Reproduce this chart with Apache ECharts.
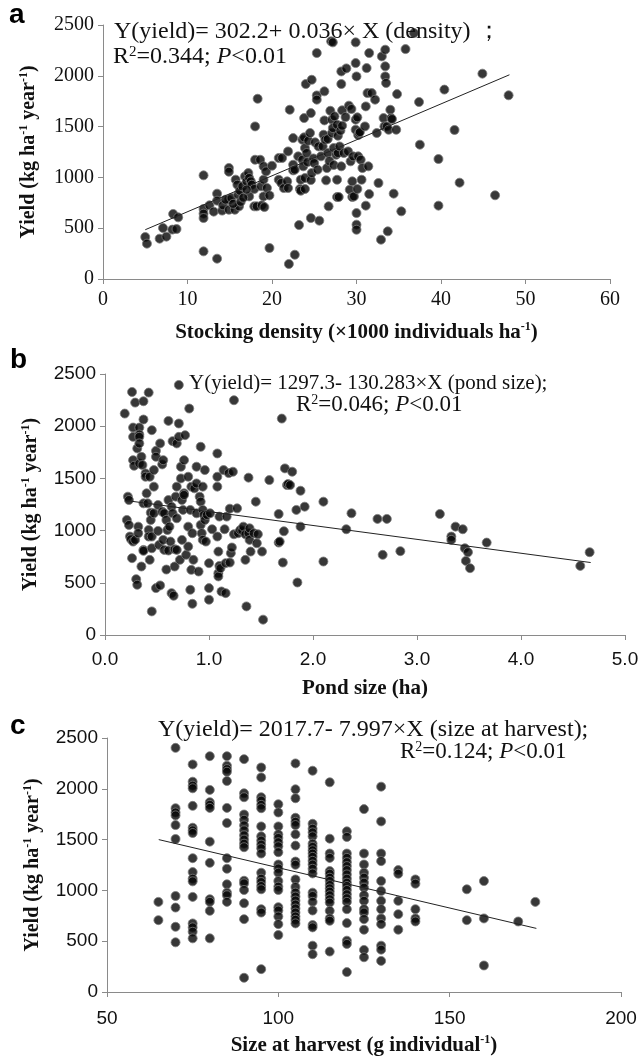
<!DOCTYPE html>
<html lang="en">
<head>
    <meta charset="UTF-8">
    <title>Yield scatter plots</title>
    <script src="https://cdn.jsdelivr.net/npm/echarts@6/dist/echarts.min.js"></script>
    <style>
        html, body { margin: 0; padding: 0; background: #fff; }
    </style>
</head>
<body>
<div id="main" style="width:644px;height:1057px;"></div>
<script type="text/javascript">

    // panel a: stocking density (x1000 ind/ha) vs yield
    var densityPoints = [
        [5.0,413],[5.2,348],[6.7,397],[7.1,502],[7.5,417],[8.2,486],[8.3,640],[8.7,492],[8.9,607],
        [11.9,272],[11.9,1020],[11.9,689],[11.9,643],[11.9,600],[13.5,200],[12.6,725],[13.1,663],
        [13.5,840],[13.5,771],[14.1,673],[14.2,725],[14.9,1093],[14.9,1056],[14.9,781],[14.9,682],
        [14.5,781],[15.2,797],[15.6,682],[15.7,978],[15.9,928],[16.0,830],[16.1,715],[16.2,869],
        [16.5,912],[16.8,1010],[17.0,961],[17.2,1043],[17.3,813],[17.3,994],[17.5,961],[17.6,928],
        [17.9,715],[17.9,886],[18.0,1174],[18.0,1502],[18.3,1774],[18.2,715],[18.6,1174],[18.7,912],
        [18.8,725],[19.0,978],[19.0,1109],[19.0,813],[19.1,708],[19.3,1059],[19.4,896],[19.7,823],
        [20.0,1115],[19.7,305],[15.4,740],[16.3,760],[16.6,800],[17.0,880],
        [20.8,1191],[21.2,1191],[20.8,977],[21.1,945],[21.4,895],[21.8,961],[21.9,895],[21.9,1256],
        [22.1,1666],[22.5,1387],[22.5,1125],[22.5,1069],[22.7,239],[22.7,1076],[23.1,1207],[23.2,531],
        [23.3,886],[23.4,977],[23.4,869],[23.6,1371],[23.6,1174],[23.7,1109],[23.8,1584],[23.8,1394],
        [23.9,1289],[23.9,994],[23.9,886],[24.0,1919],[24.1,1240],[24.2,1151],[24.3,1361],[24.5,1437],
        [24.6,1633],[24.6,974],[24.6,600],[24.7,1961],[24.7,1043],[24.9,1187],[25.0,1141],[25.1,1345],
        [25.3,2224],[25.3,1807],[25.3,1765],[25.4,1076],[25.5,1305],[22.0,148],[25.6,574],
        [25.8,1207],[26.0,1305],[26.1,1420],[26.2,1561],[26.2,1847],[26.3,1371],[26.4,971],[26.5,1092],
        [26.6,1240],[26.6,1378],[26.7,715],[26.8,1161],[26.9,1656],[27.0,2339],[27.1,1437],[27.1,1568],
        [27.2,1486],[27.2,2329],[27.3,1289],[27.3,1122],[27.4,1601],[27.6,1223],[27.7,807],[27.7,977],
        [27.7,1519],[27.8,1240],[27.8,1410],[27.9,807],[28.0,1305],[28.1,1460],[28.2,2043],[28.2,1109],
        [28.2,1919],[28.3,1660],[28.3,1509],[28.5,1240],[28.7,1594],[28.8,2073],[29.0,1256],[29.1,1706],
        [29.2,879],[29.3,1158],[29.4,1673],[29.5,961],[29.5,807],[29.6,1207],[29.7,813],[29.9,2329],
        [29.9,1469],[29.9,1568],[29.9,2125],[30.0,649],[30.0,535],[30.0,485],[30.0,1994],[30.1,886],
        [30.1,1591],[30.2,1417],[30.2,1207],[30.3,1437],
        [30.4,1446],[30.5,1174],[30.6,977],[30.7,1092],[31.0,1502],[31.1,722],[31.1,1699],[31.2,2076],
        [31.3,1830],[31.4,1109],[31.5,2224],[31.5,836],[31.8,1830],[32.2,1765],[32.4,1437],[32.6,945],
        [32.9,387],[33.0,2191],[33.2,1584],[33.3,1502],[33.4,2093],[33.4,2257],[33.4,1994],[33.5,1929],
        [33.6,1502],[33.7,469],[33.8,1469],[34.0,1666],[34.1,1584],[34.2,1574],[34.4,840],[34.7,1469],
        [34.8,1820],[35.3,666],[35.8,2263],[36.8,2421],[37.5,1322],[37.4,1742],
        [39.7,1181],[39.7,722],[40.4,1864],[41.6,1467],[42.2,948],[44.9,2021],[46.4,824],[48.0,1808]
    ];
    var densityFit = [[5.0, 485], [48.1, 2010]];

    // panel b: pond size (ha) vs yield
    var pondPoints = [
        [0.19,2121],[0.26,2328],[0.27,1987],[0.27,1898],[0.29,2226],[0.33,1987],[0.33,1920],[0.37,2064],
        [0.37,2239],[0.42,2322],[0.45,1962],[0.21,1102],[0.22,1325],[0.23,1293],[0.23,1054],[0.24,943],
        [0.25,917],[0.26,736],[0.27,895],[0.27,1675],[0.28,1621],[0.29,911],[0.30,535],[0.31,1787],
        [0.31,481],[0.32,1038],[0.32,975],[0.33,1898],[0.33,1835],[0.33,1643],[0.35,656],[0.35,1707],
        [0.36,1628],[0.37,1261],[0.37,815],[0.37,806],[0.39,1548],[0.39,1516],[0.40,1357],[0.41,1261],
        [0.42,1006],[0.42,943],[0.43,1516],[0.43,720],[0.44,1172],[0.44,1102],[0.45,943],[0.45,226],
        [0.45,831],[0.47,1166],[0.47,1580],[0.47,1421],[0.49,1764],[0.49,449],[0.49,1707],[0.51,997],
        [0.51,1245],[0.52,863],[0.53,1835],[0.53,475],[0.55,1634],[0.55,1182],[0.56,1675],[0.56,911],
        [0.57,1166],[0.57,815],[0.59,1102],[0.59,627],[0.60,1006],[0.61,809],[0.61,1293],[0.61,2051],
        [0.62,1038],[0.63,895],[0.64,1229],[0.64,401],[0.65,1166],[0.65,1857],[0.66,376],[0.67,822],
        [0.67,656],[0.68,1325],[0.69,1421],[0.69,1835],[0.69,1118],[0.69,815],[0.71,2395],[0.71,2026],
        [0.71,1898],[0.72,720],[0.73,1612],[0.73,1500],[0.74,1293],[0.74,911],[0.75,1198],[0.76,1357],
        [0.76,1675],[0.76,1341],[0.77,1914],[0.78,768],[0.80,847],[0.80,1516],[0.80,1038],[0.81,2169],
        [0.82,433],[0.82,1198],[0.83,1421],[0.83,624],[0.84,299],[0.84,975],[0.85,720],[0.86,1405],
        [0.88,1612],[0.88,1166],[0.88,1452],[0.90,608],[0.91,1325],[0.92,1054],[0.92,1803],[0.92,1277],
        [0.93,975],[0.94,1198],[0.94,1421],[0.94,911],[0.95,1150],[0.96,1102],[0.96,1580],[0.97,895],
        [0.98,1150],[1.00,688],[1.00,449],[1.00,338],[1.01,1166],[1.03,1013],[1.08,1739],[1.08,1516],
        [1.08,1421],[1.08,943],[1.09,799],[1.09,592],[1.09,561],[1.10,1134],[1.10,662],[1.11,640],
        [1.12,417],[1.14,1580],[1.15,1013],[1.16,688],[1.16,401],[1.17,1134],[1.19,1551],[1.20,1210],
        [1.20,694],[1.21,784],[1.22,838],[1.23,1564],[1.24,2249],[1.24,965],[1.27,1213],[1.28,975],
        [1.30,1006],[1.32,1000],[1.33,1038],[1.35,965],[1.35,720],[1.36,274],[1.38,975],[1.38,1507],
        [1.39,911],[1.39,1022],[1.40,799],[1.43,975],[1.45,1277],[1.46,879],[1.47,965],[1.51,799],
        [1.52,147],[1.58,1484],[1.67,1159],[1.67,885],[1.68,895],[1.70,2073],[1.71,694],[1.72,994],
        [1.73,1596],[1.75,1436],[1.76,1446],[1.78,1436],[1.80,1564],[1.84,1198],[1.85,503],[1.88,1382],
        [1.88,1038],[1.92,1229],[2.10,1277],[2.10,704],[2.32,1013],[2.37,1166],[2.62,1112],[2.67,768],
        [2.71,1112],[2.84,803],[3.22,1159],[3.33,943],[3.33,911],[3.37,1038],[3.44,1013],[3.46,831],
        [3.47,710],[3.49,793],[3.51,640],[3.67,885],[4.57,662],[4.66,793]
    ];
    var pondFit = [[0.21, 1287], [4.67, 694]];

    // panel c: size at harvest (g/ind) vs yield, one list of yields per size
    var harvestSizes = [65, 70, 75, 80, 85, 90, 95, 100, 105, 110, 115, 120, 125, 130, 135, 140, 155, 160, 170, 175];
    var harvestYields = [
        [887, 707],
        [2403, 1809, 1767, 1738, 1643, 1506, 945, 831, 642, 489],
        [2240, 2070, 2031, 2005, 1832, 1617, 1591, 1565, 1317, 1180, 1115, 1089, 936, 675, 636, 593, 528],
        [2321, 1989, 1868, 1842, 1812, 1480, 1271, 913, 887, 799, 528],
        [2321, 2227, 2194, 2168, 2077, 1812, 1663, 1317, 1213, 1060, 978, 952, 887],
        [2292, 1956, 1917, 1747, 1695, 1640, 1591, 1542, 1500, 1460, 1425, 1095, 1069, 1004, 874, 717, 140],
        [2210, 2112, 1917, 1884, 1842, 1809, 1630, 1532, 1490, 1451, 1415, 1363, 1174, 1115, 1082, 1043, 1011, 815, 782, 225],
        [1848, 1767, 1630, 1552, 1516, 1474, 1434, 1376, 1255, 1216, 1174, 1092, 1037, 1004, 835, 802, 743, 668, 561],
        [2250, 1995, 1907, 1715, 1675, 1643, 1552, 1441, 1284, 1252, 1108, 1034, 978, 939, 900, 861, 822, 782, 743, 711, 675],
        [2178, 1656, 1607, 1571, 1532, 1460, 1428, 1395, 1363, 1330, 1291, 1255, 1213, 1167, 978, 945, 887, 802, 659, 636, 456, 372],
        [2064, 1509, 1363, 1320, 1190, 1164, 1125, 1092, 1053, 1020, 988, 952, 913, 880, 799, 724, 701, 398],
        [1581, 1526, 1363, 1320, 1278, 1239, 1200, 1157, 1115, 1076, 1043, 1004, 962, 923, 887, 815, 678, 505, 473, 196],
        [1800, 1363, 1255, 1174, 1125, 1076, 1027, 952, 897, 815, 782, 717, 613, 414, 342],
        [2021, 1679, 1363, 1288, 1092, 994, 897, 815, 724, 668, 456, 417, 306],
        [1200, 1164, 897, 766, 613],
        [1108, 1066, 815, 724, 694],
        [1011, 707],
        [1092, 724, 261],
        [694],
        [887]
    ];
    var harvestFit = [[65.1, 1500], [175.3, 626]];

    var harvestPoints = [];
    harvestSizes.forEach(function (s, i) {
        harvestYields[i].forEach(function (v) { harvestPoints.push([s, v]); });
    });

    var serif = '"Liberation Serif", "Times New Roman", serif';
    var sans = '"Liberation Sans", Arial, sans-serif';
    var axisGray = '#8a8a8a';

    function nameRich(size) {
        return {
            sup: { fontFamily: serif, fontWeight: 'bold', fontSize: 12, verticalAlign: 'top', lineHeight: size + 2 },
            b: { fontFamily: serif, fontWeight: 'bold', fontSize: size, lineHeight: size + 2 }
        };
    }
    function eqRich(size) {
        return {
            t: { fontFamily: serif, fontWeight: 'normal', fontSize: size, lineHeight: 24, color: '#111' },
            s: { fontFamily: serif, fontWeight: 'normal', fontSize: Math.round(size * 0.62), lineHeight: 24, verticalAlign: 'top', color: '#111' },
            i: { fontFamily: serif, fontWeight: 'normal', fontSize: size, lineHeight: 24, fontStyle: 'italic', color: '#111' }
        };
    }

    function plain(v) { return String(v); }

    function xAx(idx, min, max, interval, name, font, size, fmt, margin) {
        return {
            gridIndex: idx, type: 'value', min: min, max: max, interval: interval,
            name: name, nameLocation: 'middle', nameGap: 42,
            nameTextStyle: { color: '#111', rich: nameRich(21) },
            axisLine: { show: true, lineStyle: { color: axisGray, width: 1 } },
            axisTick: { show: true, length: 5, lineStyle: { color: axisGray } },
            axisLabel: { color: '#111', fontFamily: font, fontSize: size, margin: margin, formatter: fmt || plain },
            splitLine: { show: false }
        };
    }
    function yAx(idx, font, size) {
        return {
            gridIndex: idx, type: 'value', min: 0, max: 2500, interval: 500,
            name: '{b|Yield (kg ha}{sup|-1}{b| year}{sup|-1}{b|)}', nameLocation: 'middle', nameGap: 63,
            nameTextStyle: { color: '#111', rich: nameRich(20) },
            axisLine: { show: true, lineStyle: { color: axisGray, width: 1 } },
            axisTick: { show: true, length: 5, lineStyle: { color: axisGray } },
            axisLabel: { color: '#111', fontFamily: font, fontSize: size, margin: 9, formatter: plain },
            splitLine: { show: false }
        };
    }
    function dots(idx, data) {
        return {
            type: 'scatter', xAxisIndex: idx, yAxisIndex: idx, data: data, symbolSize: 9,
            itemStyle: { color: '#050505', borderColor: '#7a7a7a', borderWidth: 1 },
            silent: true, z: 2
        };
    }
    function fit(idx, data) {
        return {
            type: 'line', xAxisIndex: idx, yAxisIndex: idx, data: data, symbol: 'none',
            lineStyle: { color: '#222', width: 1 }, silent: true, z: 3
        };
    }
    function label(txt, left, top) {
        return { text: txt, left: left, top: top, padding: 0,
            textStyle: { fontFamily: sans, fontWeight: 'bold', fontSize: 28, color: '#000' } };
    }
    function eq(txt, left, top, size) {
        return { text: txt, left: left, top: top, padding: 0,
            textStyle: { fontWeight: 'normal', rich: eqRich(size) } };
    }

    var myChart = echarts.init(document.getElementById('main'), null, { renderer: 'canvas' });
    var option = {
        animation: false,
        backgroundColor: '#fff',
        title: [
            label('a', 9, 1),
            label('b', 10, 346),
            label('c', 10, 712),
            eq('{t|Y(yield)= 302.2+ 0.036× X (density) ；}', 114, 20, 24),
            eq('{t|R}{s|2}{t|=0.344; }{i|P}{t|<0.01}', 113, 45, 24),
            eq('{t|Y(yield)= 1297.3- 130.283×X (pond size);}', 189, 371, 21),
            eq('{t|R}{s|2}{t|=0.046; }{i|P}{t|<0.01}', 296, 393, 23),
            eq('{t|Y(yield)= 2017.7- 7.997×X (size at harvest);}', 158, 718, 24),
            eq('{t|R}{s|2}{t|=0.124; }{i|P}{t|<0.01}', 400, 740, 23)
        ],
        grid: [
            { left: 103, top: 25, width: 507, height: 254 },
            { left: 105, top: 374, width: 520, height: 261 },
            { left: 107, top: 738, width: 514, height: 255 }
        ],
        xAxis: [
            xAx(0, 0, 60, 10, '{b|Stocking density (×1000 individuals ha}{sup|-1}{b|)}', serif, 20, null, 11),
            xAx(1, 0, 5, 1, '{b|Pond size (ha)}', sans, 19, function (v) { return v.toFixed(1); }, 15),
            xAx(2, 50, 200, 50, '{b|Size at harvest (g individual}{sup|-1}{b|)}', sans, 19, null, 17)
        ],
        yAxis: [yAx(0, serif, 20), yAx(1, sans, 19), yAx(2, sans, 19)],
        series: [
            dots(0, densityPoints), fit(0, densityFit),
            dots(1, pondPoints), fit(1, pondFit),
            dots(2, harvestPoints), fit(2, harvestFit)
        ]
    };
    option && myChart.setOption(option);
</script>
</body>
</html>
